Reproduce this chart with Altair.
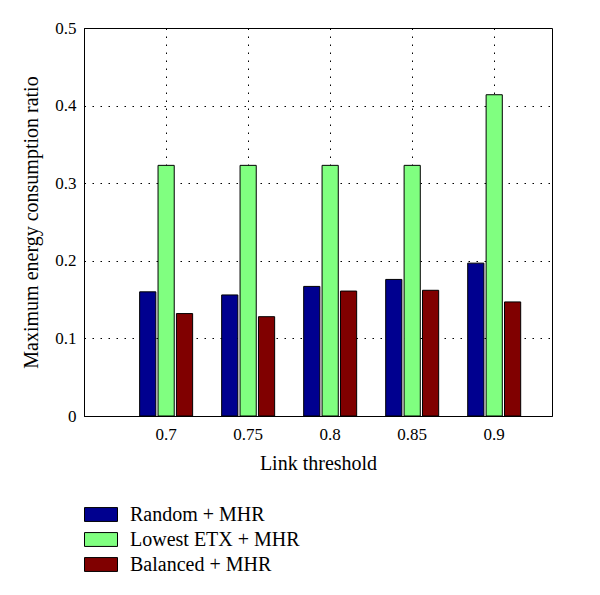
import altair as alt
import pandas as pd

thresholds = ["0.7", "0.75", "0.8", "0.85", "0.9"]
series = ["Random + MHR", "Lowest ETX + MHR", "Balanced + MHR"]
random_mhr = [0.160, 0.156, 0.167, 0.176, 0.197]
lowest_etx = [0.323, 0.323, 0.323, 0.323, 0.414]
balanced = [0.132, 0.128, 0.161, 0.162, 0.147]
colors = ["#00008F", "#80FF80", "#800000"]

rows = []
for name, vals in zip(series, [random_mhr, lowest_etx, balanced]):
    for t, v in zip(thresholds, vals):
        rows.append({"threshold": t, "series": name, "value": v})
df = pd.DataFrame(rows)

FONT = "Liberation Serif"

chart = alt.Chart(df).mark_bar(stroke="black", strokeWidth=1).encode(
    x=alt.X("threshold:N", sort=thresholds,
            scale=alt.Scale(paddingInner=0.354, paddingOuter=0.53, align=0.64),
            axis=alt.Axis(title="Link threshold", labelAngle=0, ticks=False,
                          grid=True, bandPosition=0.5, gridColor="black",
                          gridDash=[1.5, 6.5], gridOpacity=1, gridWidth=1,
                          domainColor="black", labelPadding=10, titlePadding=11)),
    xOffset=alt.XOffset("series:N", sort=series,
                        scale=alt.Scale(paddingInner=0.12, paddingOuter=0)),
    y=alt.Y("value:Q",
            scale=alt.Scale(domain=[0, 0.5], nice=False, zero=True),
            axis=alt.Axis(title="Maximum energy consumption ratio",
                          values=[0, 0.1, 0.2, 0.3, 0.4, 0.5], format="~g",
                          ticks=False, grid=True, gridColor="black",
                          gridDash=[1.5, 6.5], gridOpacity=1, gridWidth=1,
                          domainColor="black", labelPadding=8, titlePadding=13)),
    color=alt.Color("series:N", sort=series,
                    scale=alt.Scale(domain=series, range=colors),
                    legend=alt.Legend(title=None, orient="none", legendX=0, legendY=474,
                                      symbolType="M-1,-0.42H1V0.42H-1Z",
                                      symbolSize=1089, symbolStrokeColor="black",
                                      symbolStrokeWidth=1, symbolOpacity=1,
                                      clipHeight=25, rowPadding=0, labelOffset=12,
                                      labelLimit=400,
                                      labelFont=FONT, labelFontSize=20,
                                      labelColor="black")),
).properties(
    width=468, height=388,
    background="white",
    autosize=alt.AutoSizeParams(type="none"),
    padding={"left": 76, "top": 20, "right": 40, "bottom": 170},
).configure_axis(
    labelFont=FONT, titleFont=FONT, labelFontSize=17, titleFontSize=20,
    labelColor="black", titleColor="black", titleFontWeight="normal",
).configure_view(
    stroke="black", strokeWidth=1,
)

chart.save("out.html", embed_options={"renderer": "svg", "actions": False})
